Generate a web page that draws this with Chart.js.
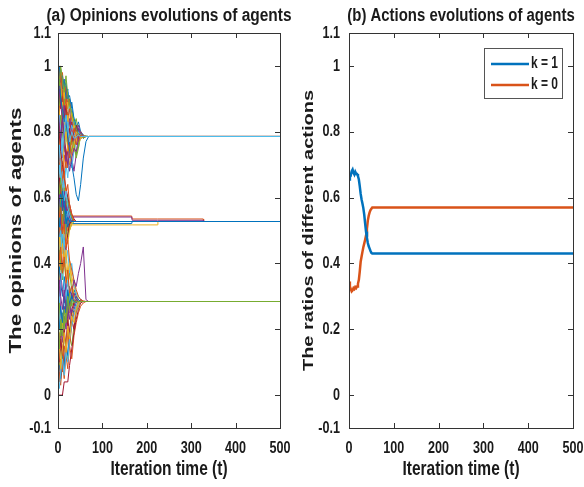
<!DOCTYPE html>
<html lang="en">
<head>
<meta charset="UTF-8">
<title>Opinions and actions evolutions of agents</title>
<script src="https://cdn.jsdelivr.net/npm/chart.js"></script>
<style>
  body { margin: 0; background: #fff; }
  .fig { position: relative; width: 584px; height: 487px; }
  .fig canvas { position: absolute; top: 0; }
  #chartA { left: 0; }
  #chartB { left: 292px; }
</style>
</head>
<body>
<div class="fig">
  <canvas id="chartA" width="292" height="487"></canvas>
  <canvas id="chartB" width="292" height="487"></canvas>
</div>

<script>
// ---- data ----
const xTickValues = [0, 100, 200, 300, 400, 500];
const xTickLabels = ['0', '100', '200', '300', '400', '500'];
const yTickValues = [-0.1, 0, 0.2, 0.4, 0.6, 0.8, 1, 1.1];
const yTickLabels = ['-0.1', '0', '0.2', '0.4', '0.6', '0.8', '1', '1.1'];

// (a) sample times of the agents' opinions
const tAgents = [0, 3, 6, 10, 14, 18, 22, 26, 31, 36, 41, 46, 51, 57, 63, 69, 500];

// agents ending in the upper group (~0.786)
const upperAgents = [
  [0.99, 0.94, 0.97, 0.91, 0.95, 0.89, 0.93, 0.86, 0.89, 0.84, 0.81, 0.83, 0.80, 0.79, 0.7856, 0.7856, 0.7856],
  [0.60, 0.67, 0.63, 0.71, 0.66, 0.74, 0.69, 0.76, 0.73, 0.79, 0.76, 0.80, 0.78, 0.785, 0.7856, 0.7856, 0.7856],
  [0.92, 0.85, 0.91, 0.83, 0.87, 0.79, 0.84, 0.76, 0.80, 0.74, 0.78, 0.81, 0.79, 0.7856, 0.7856, 0.7856, 0.7856],
  [0.76, 0.83, 0.77, 0.72, 0.79, 0.74, 0.70, 0.77, 0.72, 0.68, 0.73, 0.77, 0.80, 0.78, 0.7856, 0.7856, 0.7856],
  [0.95, 0.99, 0.92, 0.96, 0.89, 0.93, 0.87, 0.90, 0.84, 0.82, 0.84, 0.80, 0.78, 0.79, 0.7856, 0.7856, 0.7856],
  [0.69, 0.64, 0.72, 0.67, 0.63, 0.70, 0.66, 0.73, 0.69, 0.74, 0.77, 0.75, 0.79, 0.7856, 0.7856, 0.7856, 0.7856],
  [0.81, 0.87, 0.92, 0.86, 0.81, 0.88, 0.83, 0.79, 0.85, 0.81, 0.78, 0.80, 0.795, 0.7856, 0.7856, 0.7856, 0.7856],
  [1.00, 0.97, 0.99, 0.93, 0.96, 0.90, 0.92, 0.87, 0.85, 0.83, 0.80, 0.79, 0.80, 0.787, 0.7856, 0.7856, 0.7856],
  [0.93, 0.99, 0.94, 0.98, 0.91, 0.94, 0.88, 0.90, 0.84, 0.81, 0.79, 0.80, 0.78, 0.79, 0.7856, 0.7856, 0.7856],
  [0.84, 0.90, 0.96, 0.88, 0.93, 0.85, 0.89, 0.82, 0.86, 0.80, 0.82, 0.78, 0.79, 0.7856, 0.7856, 0.7856, 0.7856],
  [0.72, 0.81, 0.75, 0.86, 0.79, 0.84, 0.77, 0.83, 0.78, 0.75, 0.79, 0.81, 0.78, 0.785, 0.7856, 0.7856, 0.7856],
  [0.97, 0.88, 0.93, 0.85, 0.90, 0.80, 0.86, 0.78, 0.74, 0.77, 0.72, 0.75, 0.79, 0.78, 0.7856, 0.7856, 0.7856],
  [0.65, 0.74, 0.69, 0.80, 0.86, 0.78, 0.83, 0.88, 0.81, 0.84, 0.80, 0.77, 0.785, 0.79, 0.7856, 0.7856, 0.7856],
  [0.89, 0.95, 0.87, 0.91, 0.84, 0.88, 0.82, 0.79, 0.83, 0.79, 0.81, 0.80, 0.79, 0.7856, 0.7856, 0.7856, 0.7856],
  [0.99, 1.00, 0.95, 0.97, 0.93, 0.95, 0.90, 0.91, 0.87, 0.84, 0.82, 0.80, 0.795, 0.7856, 0.7856, 0.7856, 0.7856],
  [0.96, 0.91, 0.98, 0.92, 0.86, 0.90, 0.84, 0.87, 0.80, 0.78, 0.76, 0.79, 0.80, 0.783, 0.7856, 0.7856, 0.7856],
  [0.91, 0.86, 0.82, 0.89, 0.83, 0.78, 0.85, 0.80, 0.76, 0.82, 0.78, 0.76, 0.78, 0.79, 0.7856, 0.7856, 0.7856],
  [0.86, 0.93, 0.89, 0.83, 0.88, 0.82, 0.79, 0.84, 0.81, 0.77, 0.80, 0.82, 0.79, 0.785, 0.7856, 0.7856, 0.7856],
  [0.82, 0.77, 0.85, 0.80, 0.74, 0.81, 0.76, 0.73, 0.79, 0.75, 0.73, 0.76, 0.80, 0.78, 0.787, 0.7856, 0.7856],
  [0.78, 0.85, 0.80, 0.75, 0.82, 0.77, 0.83, 0.79, 0.82, 0.80, 0.78, 0.80, 0.79, 0.7856, 0.7856, 0.7856, 0.7856],
  [0.74, 0.69, 0.78, 0.84, 0.78, 0.72, 0.76, 0.81, 0.77, 0.80, 0.82, 0.78, 0.785, 0.7856, 0.7856, 0.7856, 0.7856],
  [0.94, 0.96, 0.90, 0.87, 0.83, 0.85, 0.78, 0.74, 0.70, 0.66, 0.61, 0.59, 0.64, 0.72, 0.77, 0.7856, 0.7856],
  [0.67, 0.62, 0.70, 0.66, 0.73, 0.69, 0.76, 0.72, 0.78, 0.81, 0.79, 0.77, 0.79, 0.7856, 0.7856, 0.7856, 0.7856],
  [0.70, 0.78, 0.73, 0.69, 0.75, 0.80, 0.74, 0.70, 0.73, 0.76, 0.80, 0.79, 0.78, 0.7856, 0.7856, 0.7856, 0.7856],
  [0.88, 0.82, 0.78, 0.84, 0.76, 0.71, 0.74, 0.68, 0.72, 0.75, 0.74, 0.78, 0.80, 0.787, 0.7856, 0.7856, 0.7856],
  [0.98, 0.94, 1.00, 0.96, 0.92, 0.97, 0.91, 0.88, 0.86, 0.83, 0.81, 0.79, 0.7856, 0.7856, 0.7856, 0.7856, 0.7856],
  [0.63, 0.71, 0.66, 0.74, 0.80, 0.85, 0.81, 0.77, 0.80, 0.78, 0.785, 0.79, 0.7856, 0.7856, 0.7856, 0.7856, 0.7856]
];

// agents ending in the middle group (~0.527)
const middleAgents = [
  [0.64, 0.58, 0.65, 0.59, 0.54, 0.60, 0.55, 0.57, 0.53, 0.5273, 0.5273, 0.5273, 0.5273, 0.5273, 0.5273, 0.5273, 0.5273],
  [0.42, 0.49, 0.44, 0.51, 0.46, 0.50, 0.55, 0.51, 0.5273, 0.5273, 0.5273, 0.5273, 0.5273, 0.5273, 0.5273, 0.5273, 0.5273],
  [0.70, 0.64, 0.59, 0.65, 0.60, 0.56, 0.59, 0.55, 0.54, 0.5273, 0.5273, 0.5273, 0.5273, 0.5273, 0.5273, 0.5273, 0.5273],
  [0.48, 0.43, 0.50, 0.55, 0.49, 0.54, 0.50, 0.53, 0.5273, 0.5273, 0.5273, 0.5273, 0.5273, 0.5273, 0.5273, 0.5273, 0.5273],
  [0.56, 0.61, 0.55, 0.50, 0.56, 0.51, 0.56, 0.54, 0.5273, 0.5273, 0.5273, 0.5273, 0.5273, 0.5273, 0.5273, 0.5273, 0.5273],
  [0.38, 0.44, 0.49, 0.45, 0.51, 0.47, 0.52, 0.50, 0.52, 0.5273, 0.5273, 0.5273, 0.5273, 0.5273, 0.5273, 0.5273, 0.5273],
  [0.66, 0.71, 0.64, 0.68, 0.62, 0.57, 0.61, 0.56, 0.535, 0.5273, 0.5273, 0.5273, 0.5273, 0.5273, 0.5273, 0.5273, 0.5273],
  [0.60, 0.66, 0.58, 0.63, 0.55, 0.59, 0.54, 0.56, 0.535, 0.5273, 0.5273, 0.5273, 0.5273, 0.5273, 0.5273, 0.5273, 0.5273],
  [0.55, 0.48, 0.53, 0.46, 0.51, 0.57, 0.52, 0.55, 0.53, 0.5273, 0.5273, 0.5273, 0.5273, 0.5273, 0.5273, 0.5273, 0.5273],
  [0.45, 0.52, 0.47, 0.55, 0.49, 0.53, 0.50, 0.54, 0.5273, 0.5273, 0.5273, 0.5273, 0.5273, 0.5273, 0.5273, 0.5273, 0.5273],
  [0.50, 0.42, 0.48, 0.44, 0.52, 0.47, 0.53, 0.51, 0.5273, 0.5273, 0.5273, 0.5273, 0.5273, 0.5273, 0.5273, 0.5273, 0.5273],
  [0.58, 0.62, 0.55, 0.60, 0.53, 0.49, 0.55, 0.52, 0.5273, 0.5273, 0.5273, 0.5273, 0.5273, 0.5273, 0.5273, 0.5273, 0.5273],
  [0.68, 0.61, 0.66, 0.59, 0.63, 0.57, 0.60, 0.56, 0.54, 0.5273, 0.5273, 0.5273, 0.5273, 0.5273, 0.5273, 0.5273, 0.5273],
  [0.40, 0.46, 0.43, 0.50, 0.45, 0.52, 0.56, 0.53, 0.5273, 0.5273, 0.5273, 0.5273, 0.5273, 0.5273, 0.5273, 0.5273, 0.5273],
  [0.85, 0.79, 0.74, 0.70, 0.66, 0.63, 0.60, 0.58, 0.55, 0.535, 0.5273, 0.5273, 0.5273, 0.5273, 0.5273, 0.5273, 0.5273],
  [0.52, 0.57, 0.61, 0.56, 0.60, 0.54, 0.51, 0.53, 0.5273, 0.5273, 0.5273, 0.5273, 0.5273, 0.5273, 0.5273, 0.5273, 0.5273],
  [0.76, 0.70, 0.72, 0.65, 0.68, 0.61, 0.64, 0.58, 0.55, 0.53, 0.5273, 0.5273, 0.5273, 0.5273, 0.5273, 0.5273, 0.5273],
  [0.35, 0.41, 0.38, 0.45, 0.42, 0.48, 0.46, 0.50, 0.52, 0.5273, 0.5273, 0.5273, 0.5273, 0.5273, 0.5273, 0.5273, 0.5273],
  [0.63, 0.57, 0.52, 0.58, 0.62, 0.56, 0.58, 0.54, 0.5273, 0.5273, 0.5273, 0.5273, 0.5273, 0.5273, 0.5273, 0.5273, 0.5273],
  [0.47, 0.55, 0.60, 0.52, 0.57, 0.50, 0.48, 0.52, 0.5273, 0.5273, 0.5273, 0.5273, 0.5273, 0.5273, 0.5273, 0.5273, 0.5273],
  [0.72, 0.76, 0.68, 0.64, 0.59, 0.62, 0.57, 0.55, 0.53, 0.5273, 0.5273, 0.5273, 0.5273, 0.5273, 0.5273, 0.5273, 0.5273],
  [0.30, 0.36, 0.42, 0.39, 0.46, 0.44, 0.49, 0.52, 0.53, 0.5273, 0.5273, 0.5273, 0.5273, 0.5273, 0.5273, 0.5273, 0.5273],
  [0.57, 0.51, 0.56, 0.62, 0.58, 0.52, 0.54, 0.53, 0.5273, 0.5273, 0.5273, 0.5273, 0.5273, 0.5273, 0.5273, 0.5273, 0.5273]
];

// agents ending in the lower group (~0.284)
const lowerAgents = [
  [0.02, 0.07, 0.03, 0.10, 0.05, 0.12, 0.08, 0.15, 0.11, 0.18, 0.22, 0.25, 0.27, 0.28, 0.2843, 0.2843, 0.2843],
  [0.40, 0.35, 0.42, 0.37, 0.44, 0.39, 0.35, 0.41, 0.36, 0.33, 0.31, 0.29, 0.285, 0.2843, 0.2843, 0.2843, 0.2843],
  [0.27, 0.33, 0.26, 0.21, 0.27, 0.23, 0.29, 0.25, 0.31, 0.27, 0.30, 0.28, 0.29, 0.2843, 0.2843, 0.2843, 0.2843],
  [0.13, 0.08, 0.15, 0.10, 0.18, 0.14, 0.11, 0.18, 0.15, 0.21, 0.25, 0.27, 0.285, 0.2843, 0.2843, 0.2843, 0.2843],
  [0.52, 0.46, 0.50, 0.43, 0.47, 0.40, 0.44, 0.37, 0.40, 0.34, 0.31, 0.30, 0.29, 0.2843, 0.2843, 0.2843, 0.2843],
  [0.07, 0.12, 0.18, 0.13, 0.09, 0.16, 0.21, 0.17, 0.23, 0.20, 0.26, 0.28, 0.29, 0.285, 0.2843, 0.2843, 0.2843],
  [0.33, 0.39, 0.34, 0.30, 0.36, 0.31, 0.27, 0.33, 0.29, 0.32, 0.30, 0.29, 0.2843, 0.2843, 0.2843, 0.2843, 0.2843],
  [0.60, 0.54, 0.57, 0.49, 0.52, 0.45, 0.47, 0.41, 0.38, 0.35, 0.32, 0.30, 0.29, 0.286, 0.2843, 0.2843, 0.2843],
  [0.43, 0.48, 0.41, 0.46, 0.39, 0.44, 0.37, 0.40, 0.34, 0.31, 0.29, 0.28, 0.285, 0.2843, 0.2843, 0.2843, 0.2843],
  [0.35, 0.30, 0.37, 0.32, 0.28, 0.34, 0.30, 0.27, 0.31, 0.35, 0.33, 0.37, 0.40, 0.45, 0.29, 0.2843, 0.2843],
  [0.38, 0.44, 0.40, 0.35, 0.41, 0.36, 0.33, 0.37, 0.32, 0.30, 0.29, 0.285, 0.2843, 0.2843, 0.2843, 0.2843, 0.2843],
  [0.32, 0.27, 0.34, 0.38, 0.33, 0.29, 0.35, 0.31, 0.28, 0.30, 0.285, 0.2843, 0.2843, 0.2843, 0.2843, 0.2843, 0.2843],
  [0.00, 0.00, 0.00, 0.00, 0.04, 0.04, 0.04, 0.09, 0.14, 0.19, 0.23, 0.26, 0.28, 0.2843, 0.2843, 0.2843, 0.2843],
  [0.03, 0.09, 0.05, 0.13, 0.08, 0.16, 0.12, 0.19, 0.23, 0.26, 0.28, 0.29, 0.2843, 0.2843, 0.2843, 0.2843, 0.2843],
  [0.08, 0.04, 0.11, 0.07, 0.15, 0.11, 0.19, 0.15, 0.21, 0.25, 0.27, 0.285, 0.2843, 0.2843, 0.2843, 0.2843, 0.2843],
  [0.12, 0.19, 0.14, 0.22, 0.17, 0.25, 0.21, 0.27, 0.24, 0.28, 0.29, 0.2843, 0.2843, 0.2843, 0.2843, 0.2843, 0.2843],
  [0.18, 0.13, 0.21, 0.16, 0.24, 0.20, 0.27, 0.23, 0.29, 0.31, 0.29, 0.2843, 0.2843, 0.2843, 0.2843, 0.2843, 0.2843],
  [0.22, 0.28, 0.18, 0.25, 0.20, 0.29, 0.24, 0.31, 0.27, 0.29, 0.2843, 0.2843, 0.2843, 0.2843, 0.2843, 0.2843, 0.2843],
  [0.05, 0.02, 0.07, 0.11, 0.06, 0.13, 0.10, 0.17, 0.21, 0.24, 0.27, 0.28, 0.2843, 0.2843, 0.2843, 0.2843, 0.2843],
  [0.15, 0.10, 0.17, 0.12, 0.20, 0.15, 0.23, 0.19, 0.26, 0.28, 0.285, 0.2843, 0.2843, 0.2843, 0.2843, 0.2843, 0.2843],
  [0.25, 0.20, 0.27, 0.22, 0.30, 0.25, 0.32, 0.28, 0.30, 0.285, 0.2843, 0.2843, 0.2843, 0.2843, 0.2843, 0.2843, 0.2843],
  [0.47, 0.41, 0.45, 0.37, 0.42, 0.34, 0.38, 0.31, 0.33, 0.29, 0.2843, 0.2843, 0.2843, 0.2843, 0.2843, 0.2843, 0.2843],
  [0.10, 0.16, 0.08, 0.14, 0.19, 0.13, 0.21, 0.17, 0.24, 0.22, 0.26, 0.28, 0.2843, 0.2843, 0.2843, 0.2843, 0.2843],
  [0.29, 0.35, 0.30, 0.26, 0.32, 0.27, 0.23, 0.28, 0.25, 0.27, 0.29, 0.2843, 0.2843, 0.2843, 0.2843, 0.2843, 0.2843],
  [0.20, 0.14, 0.23, 0.18, 0.26, 0.22, 0.30, 0.26, 0.29, 0.28, 0.285, 0.2843, 0.2843, 0.2843, 0.2843, 0.2843, 0.2843]
];

// a few agents that stay just off the middle group for a long time
const tSlow = [0, 4, 8, 12, 16, 20, 25, 30, 166, 167, 224, 225, 327, 328, 500];
const slowAgents = [
  [0.57, 0.54, 0.51, 0.50, 0.515, 0.52, 0.521, 0.521, 0.521, 0.5273, 0.5273, 0.5273, 0.5273, 0.5273, 0.5273],
  [0.50, 0.53, 0.56, 0.58, 0.56, 0.55, 0.545, 0.544, 0.544, 0.535, 0.535, 0.535, 0.535, 0.5273, 0.5273],
  [0.44, 0.47, 0.50, 0.49, 0.51, 0.515, 0.517, 0.517, 0.517, 0.517, 0.517, 0.5273, 0.5273, 0.5273, 0.5273],
  [0.62, 0.60, 0.57, 0.56, 0.55, 0.545, 0.542, 0.541, 0.541, 0.531, 0.531, 0.531, 0.531, 0.5273, 0.5273]
];

// (b) ratios of the two actions
const tActions = [0, 2, 4, 6, 8, 10, 12, 14, 16, 18, 20, 22, 24, 26, 28, 30, 32, 34, 36, 38, 40, 42, 44, 46, 48, 50, 52, 500];
const kOne  = [0.655, 0.670, 0.668, 0.680, 0.685, 0.675, 0.670, 0.678, 0.672, 0.672, 0.665, 0.655, 0.635, 0.612, 0.595, 0.582, 0.568, 0.548, 0.522, 0.497, 0.478, 0.462, 0.452, 0.445, 0.438, 0.432, 0.430, 0.430];
const kZero = [0.345, 0.330, 0.322, 0.315, 0.318, 0.325, 0.322, 0.328, 0.325, 0.330, 0.338, 0.350, 0.375, 0.405, 0.420, 0.435, 0.449, 0.460, 0.472, 0.485, 0.505, 0.530, 0.545, 0.555, 0.562, 0.566, 0.570, 0.570];
const actionLabels = ['k = 1', 'k = 0'];

// ---- styling ----
const matlabColors = ['#0072BD', '#D95319', '#EDB120', '#7E2F8E', '#77AC30', '#4DBEEE', '#A2142F'];
const fontFamily = '"Liberation Sans", Arial, sans-serif';
const axisColor = '#333';
const textColor = '#1a1a1a';

function toPoints(times, values) {
  return values.map((v, i) => ({ x: times[i], y: v }));
}

// the original figure was squeezed sideways, so the text is drawn squeezed too
function squeezedText(ctx, text, x, y, size, sx, sy, rot, align) {
  ctx.save();
  ctx.translate(x, y);
  ctx.rotate(rot);
  ctx.scale(sx, sy);
  ctx.font = 'bold ' + size + 'px ' + fontFamily;
  ctx.fillStyle = textColor;
  ctx.textAlign = align || 'center';
  ctx.textBaseline = 'middle';
  ctx.fillText(text, 0, 0);
  ctx.restore();
}

// box around the axes, inward tick marks on all four sides, tick labels and titles
const matlabAxes = {
  id: 'matlabAxes',
  afterDatasetsDraw(chart, args, opts) {
    const ctx = chart.ctx;
    const a = chart.chartArea;
    const xs = chart.scales.x, ys = chart.scales.y;
    ctx.save();
    ctx.strokeStyle = axisColor;
    ctx.lineWidth = 1;
    ctx.strokeRect(Math.round(a.left) + 0.5, Math.round(a.top) + 0.5,
      Math.round(a.right - a.left), Math.round(a.bottom - a.top));
    ctx.beginPath();
    xTickValues.slice(1, -1).forEach(v => {
      const px = Math.round(xs.getPixelForValue(v)) + 0.5;
      ctx.moveTo(px, a.bottom); ctx.lineTo(px, a.bottom - 5);
      ctx.moveTo(px, a.top); ctx.lineTo(px, a.top + 5);
    });
    yTickValues.slice(1, -1).forEach(v => {
      const py = Math.round(ys.getPixelForValue(v)) + 0.5;
      ctx.moveTo(a.left, py); ctx.lineTo(a.left + 5, py);
      ctx.moveTo(a.right, py); ctx.lineTo(a.right - 5, py);
    });
    ctx.stroke();
    ctx.restore();

    xTickValues.forEach((v, i) =>
      squeezedText(ctx, xTickLabels[i], xs.getPixelForValue(v), a.bottom + 20, 17, 0.74, 1, 0));
    yTickValues.forEach((v, i) =>
      squeezedText(ctx, yTickLabels[i], a.left - opts.tickGap, ys.getPixelForValue(v), 17, 0.74, 1, 0, 'right'));

    const cx = (a.left + a.right) / 2;
    const cy = (a.top + a.bottom) / 2;
    squeezedText(ctx, opts.title, cx, 16, 18, opts.titleSqueeze, 1, 0);
    squeezedText(ctx, 'Iteration time (t)', cx, 469, 20, 0.775, 1, 0);
    squeezedText(ctx, opts.yTitle, opts.yTitleX, cy, opts.yTitleSize, 1, 0.76, -Math.PI / 2);
  }
};

// legend box in the upper right corner of panel (b)
const cornerLegend = {
  id: 'cornerLegend',
  afterDraw(chart, args, opts) {
    if (!opts.show) return;
    const ctx = chart.ctx;
    const a = chart.chartArea;
    const w = 78, h = 50;
    const x0 = Math.round(a.right - 11 - w), y0 = Math.round(a.top + 15);
    ctx.save();
    ctx.fillStyle = '#fff';
    ctx.fillRect(x0, y0, w, h);
    ctx.strokeStyle = '#555';
    ctx.lineWidth = 1;
    ctx.strokeRect(x0 + 0.5, y0 + 0.5, w, h);
    chart.data.datasets.forEach((ds, i) => {
      const yy = y0 + 16 + i * 21;
      ctx.strokeStyle = ds.borderColor;
      ctx.lineWidth = 2.5;
      ctx.beginPath();
      ctx.moveTo(x0 + 7, yy);
      ctx.lineTo(x0 + 45, yy);
      ctx.stroke();
      squeezedText(ctx, ds.label, x0 + 47, yy, 16, 0.75, 1, 0, 'left');
    });
    ctx.restore();
  }
};

function axesOptions(yWidth, rightPad) {
  return {
    responsive: false,
    animation: false,
    layout: { padding: { top: 33, right: rightPad, bottom: 0, left: 0 } },
    elements: { point: { radius: 0 }, line: { tension: 0 } },
    scales: {
      x: {
        type: 'linear', min: 0, max: 500,
        grid: { display: false, drawTicks: false },
        border: { display: false },
        ticks: { display: false },
        afterFit: s => { s.height = 59; }
      },
      y: {
        type: 'linear', min: -0.1, max: 1.1,
        grid: { display: false, drawTicks: false },
        border: { display: false },
        ticks: { display: false },
        afterFit: s => { s.width = yWidth; }
      }
    }
  };
}

// ---- panel (a) ----
const plotted = [];
slowAgents.forEach((vals, j) => plotted.push({ data: toPoints(tSlow, vals), color: matlabColors[j % 7] }));
upperAgents.concat(middleAgents, lowerAgents).forEach((vals, i) =>
  plotted.push({ data: toPoints(tAgents, vals), color: matlabColors[i % 7] }));

// MATLAB draws the last line on top, Chart.js draws the first dataset on top
const agentSets = plotted.slice().reverse().map(p => ({
  data: p.data, borderColor: p.color, borderWidth: 1, fill: false
}));

const optsA = axesOptions(58, 12);
optsA.plugins = {
  legend: { display: false }, tooltip: { enabled: false },
  matlabAxes: { title: '(a) Opinions evolutions of agents', titleSqueeze: 0.86, yTitle: 'The opinions of agents',
    yTitleX: 16, yTitleSize: 22.5, tickGap: 7 },
  cornerLegend: { show: false }
};
new Chart(document.getElementById('chartA'), {
  type: 'line',
  data: { datasets: agentSets },
  options: optsA,
  plugins: [matlabAxes, cornerLegend]
});

// ---- panel (b) ----
const optsB = axesOptions(57, 11);
optsB.plugins = {
  legend: { display: false }, tooltip: { enabled: false },
  matlabAxes: { title: '(b) Actions evolutions of agents', titleSqueeze: 0.83, yTitle: 'The ratios of different actions',
    yTitleX: 17, yTitleSize: 20, tickGap: 9 },
  cornerLegend: { show: true }
};
new Chart(document.getElementById('chartB'), {
  type: 'line',
  data: {
    datasets: [
      { label: actionLabels[0], data: toPoints(tActions, kOne), borderColor: matlabColors[0], borderWidth: 2.5, fill: false },
      { label: actionLabels[1], data: toPoints(tActions, kZero), borderColor: matlabColors[1], borderWidth: 2.5, fill: false }
    ]
  },
  options: optsB,
  plugins: [matlabAxes, cornerLegend]
});
</script>
</body>
</html>
